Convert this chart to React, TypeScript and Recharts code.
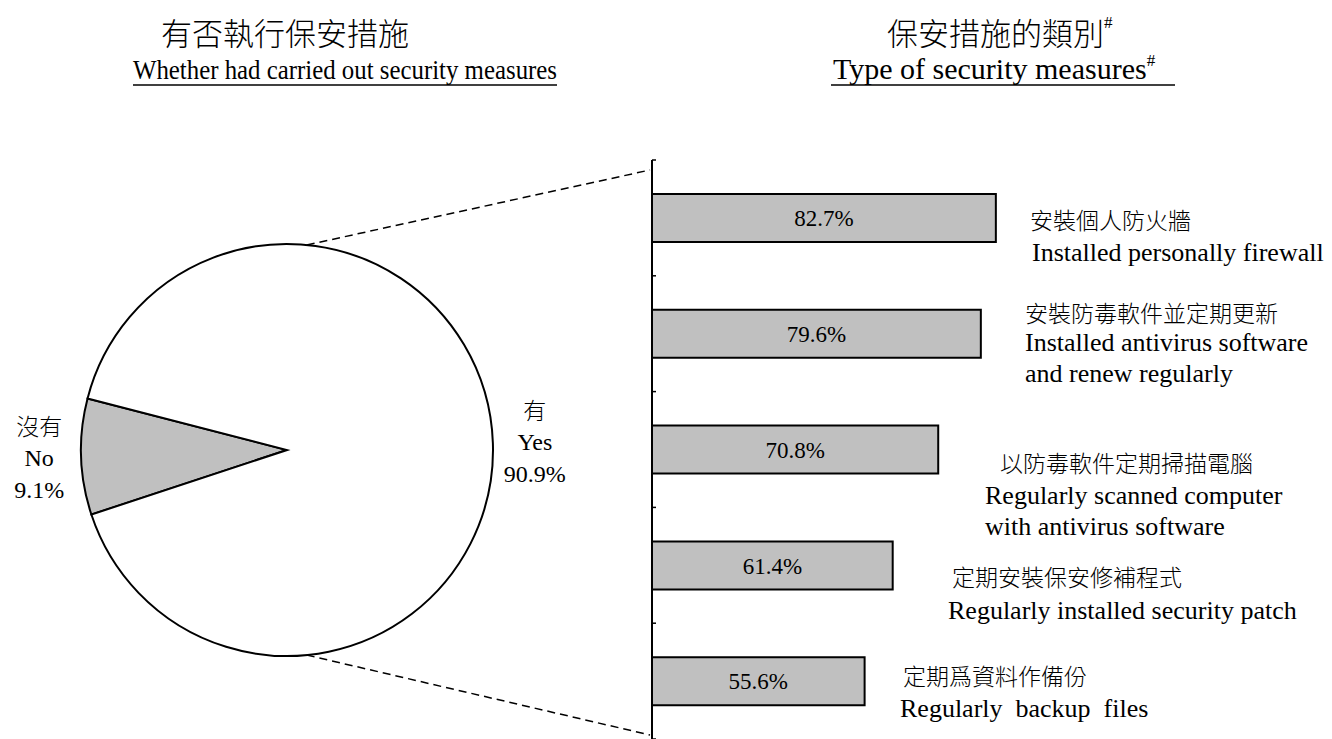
import React from 'react';
import { PieChart, Pie, Cell, BarChart, Bar, XAxis, YAxis, LabelList } from 'recharts';

// ---------- data ----------
const pieNamesZh = ['沒有', '有'];
const pieNamesEn = ['No', 'Yes'];
const pieValues = [9.1, 90.9];

const measureZh = ['安裝個人防火牆', '安裝防毒軟件並定期更新', '以防毒軟件定期掃描電腦', '定期安裝保安修補程式', '定期爲資料作備份'];
const measureEn = [
  ['Installed personally firewall'],
  ['Installed antivirus software', 'and renew regularly'],
  ['Regularly scanned computer', 'with antivirus software'],
  ['Regularly installed security patch'],
  ['Regularly  backup  files'],
];
const measureValues = [82.7, 79.6, 70.8, 61.4, 55.6];

// ---------- layout / style ----------
const W = 1332;
const H = 739;
const SERIF = "'Liberation Serif', 'Times New Roman', serif";
const CJK = "'Noto Sans CJK TC', 'Noto Sans CJK SC', sans-serif";
const GREY = '#c0c0c0';

const PIE_CX = 287;
const PIE_CY = 450;
const PIE_R = 206;

const BAR_LEFT = 600; // div offset
const BAR_W = 732;
const AXIS_X = 52; // plot left inside bar chart
const Y_AXIS_W = 10;
const PLOT_TOP = 160;
const PLOT_H = H - PLOT_TOP;
const BAND = PLOT_H / measureValues.length;

// per-category label layout: [zhX, zhDy, enX, enDy] (x from axis, dy from bar centre)
const labelLayout = [
  [378, 1, 380, 34],
  [373, -22, 373, 9],
  [348, 12, 333, 46],
  [300, 11, 296, 45],
  [251, -6, 248, 27],
];
const LINE_H = 31;

const pieData = pieValues.map((v, i) => ({ name: pieNamesEn[i], zh: pieNamesZh[i], value: v }));
const barData = measureValues.map((v, i) => ({ zh: measureZh[i], en: measureEn[i], value: v }));

const RAD = Math.PI / 180;

const renderPieLabel = (props: any) => {
  const { cx, cy, midAngle, outerRadius, index } = props;
  const r = outerRadius + 42;
  const x = cx + r * Math.cos(-midAngle * RAD);
  const y = cy + r * Math.sin(-midAngle * RAD);
  const d = pieData[index];
  return (
    <g>
      <text x={x} y={y - 33} textAnchor="middle" dominantBaseline="central" fontFamily={CJK} fontWeight={300} fontSize={23} fill="#000">
        {d.zh}
      </text>
      <text x={x} y={y} textAnchor="middle" dominantBaseline="central" fontFamily={SERIF} fontSize={24} fill="#000">
        {d.name}
      </text>
      <text x={x} y={y + 32} textAnchor="middle" dominantBaseline="central" fontFamily={SERIF} fontSize={24} fill="#000">
        {d.value.toFixed(1)}%
      </text>
    </g>
  );
};

const renderCategoryLabel = (props: any) => {
  const { y, height, index } = props;
  const cyBar = y + height / 2;
  const [zx, zdy, ex, edy] = labelLayout[index];
  const d = barData[index];
  return (
    <g>
      <text x={AXIS_X + zx} y={cyBar + zdy} dominantBaseline="central" fontFamily={CJK} fontWeight={300} fontSize={23} fill="#000">
        {d.zh}
      </text>
      {d.en.map((line: string, k: number) => (
        <text key={k} x={AXIS_X + ex} y={cyBar + edy + k * LINE_H} dominantBaseline="central" fontFamily={SERIF} fontSize={26} fill="#000" style={{ whiteSpace: 'pre' }}>
          {line}
        </text>
      ))}
    </g>
  );
};

const renderTick = (props: any) => {
  const { y, index } = props;
  const top = y - BAND / 2;
  return (
    <g>
      <line x1={AXIS_X} x2={AXIS_X + 4} y1={top} y2={top} stroke="#000" strokeWidth={1.5} />
      {index === measureValues.length - 1 && (
        <line x1={AXIS_X} x2={AXIS_X + 4} y1={y + BAND / 2} y2={y + BAND / 2} stroke="#000" strokeWidth={1.5} />
      )}
    </g>
  );
};

// linear scale (axis starts at ~11.7)
const X_MIN = 11.7;
const PX_PER_UNIT = 4.843;
const PLOT_W = BAR_W - AXIS_X;
const X_MAX = X_MIN + PLOT_W / PX_PER_UNIT;

export default function App() {
  const topA = 84.5 * RAD;
  const p1 = { x: PIE_CX + PIE_R * Math.cos(topA), y: PIE_CY - PIE_R * Math.sin(topA) };
  const p2 = { x: PIE_CX + PIE_R * Math.cos(topA), y: PIE_CY + PIE_R * Math.sin(topA) };
  return (
    <div style={{ position: 'absolute', left: 0, top: 0, width: W, height: H, background: '#fff', overflow: 'hidden' }}>
      <div style={{ position: 'absolute', left: 0, top: 0 }}>
        <PieChart width={600} height={H} margin={{ top: 0, right: 0, bottom: 0, left: 0 }}>
          <Pie
            data={pieData}
            dataKey="value"
            cx={PIE_CX}
            cy={PIE_CY}
            outerRadius={PIE_R}
            startAngle={165.5}
            endAngle={525.5}
            stroke="#000"
            strokeWidth={2}
            label={renderPieLabel}
            labelLine={false}
            isAnimationActive={false}
          >
            {pieData.map((d, i) => (
              <Cell key={i} fill={i === 0 ? GREY : '#fff'} />
            ))}
          </Pie>
        </PieChart>
      </div>
      <div style={{ position: 'absolute', left: BAR_LEFT, top: 0 }}>
        <BarChart
          width={BAR_W}
          height={H}
          data={barData}
          layout="vertical"
          margin={{ top: PLOT_TOP, right: 0, bottom: 0, left: AXIS_X - Y_AXIS_W }}
        >
          <XAxis type="number" domain={[X_MIN, X_MAX]} hide />
          <YAxis
            type="category"
            dataKey="zh"
            width={Y_AXIS_W}
            axisLine={{ stroke: '#000', strokeWidth: 2 }}
            tickLine={false}
            tick={renderTick}
            interval={0}
          />
          <Bar dataKey="value" fill={GREY} stroke="#000" strokeWidth={2} barSize={48} isAnimationActive={false}>
            <LabelList
              dataKey="value"
              position="center"
              formatter={(v: any) => `${Number(v).toFixed(1)}%`}
              style={{ fontFamily: SERIF, fontSize: 23, fill: '#000' }}
            />
            <LabelList dataKey="value" content={renderCategoryLabel} />
          </Bar>
        </BarChart>
      </div>
      <svg width={W} height={H} style={{ position: 'absolute', left: 0, top: 0, pointerEvents: 'none' }}>
        <line x1={p1.x} y1={p1.y} x2={BAR_LEFT + AXIS_X - 2} y2={170} stroke="#000" strokeWidth={1.5} strokeDasharray="8 5" />
        <line x1={p2.x} y1={p2.y} x2={BAR_LEFT + AXIS_X - 2} y2={735} stroke="#000" strokeWidth={1.5} strokeDasharray="8 5" />
        <text x={285} y={31} textAnchor="middle" dominantBaseline="central" fontFamily={CJK} fontWeight={300} fontSize={31} fill="#000">
          有否執行保安措施
        </text>
        <text x={133} y={79} fontFamily={SERIF} fontSize={27} fill="#000" textLength={424} lengthAdjust="spacingAndGlyphs">
          Whether had carried out security measures
        </text>
        <line x1={133} x2={557} y1={85} y2={85} stroke="#000" strokeWidth={1.5} />
        <text x={887} y={31} dominantBaseline="central" fontFamily={CJK} fontWeight={300} fontSize={31} fill="#000">
          保安措施的類別
          <tspan fontFamily={SERIF} fontSize={17} dy={-9}>#</tspan>
        </text>
        <text x={833} y={79} fontFamily={SERIF} fontSize={30} fill="#000">
          Type of security measures
          <tspan fontSize={17} dy={-13}>#</tspan>
        </text>
        <line x1={831} x2={1175} y1={85} y2={85} stroke="#000" strokeWidth={1.5} />
      </svg>
    </div>
  );
}
